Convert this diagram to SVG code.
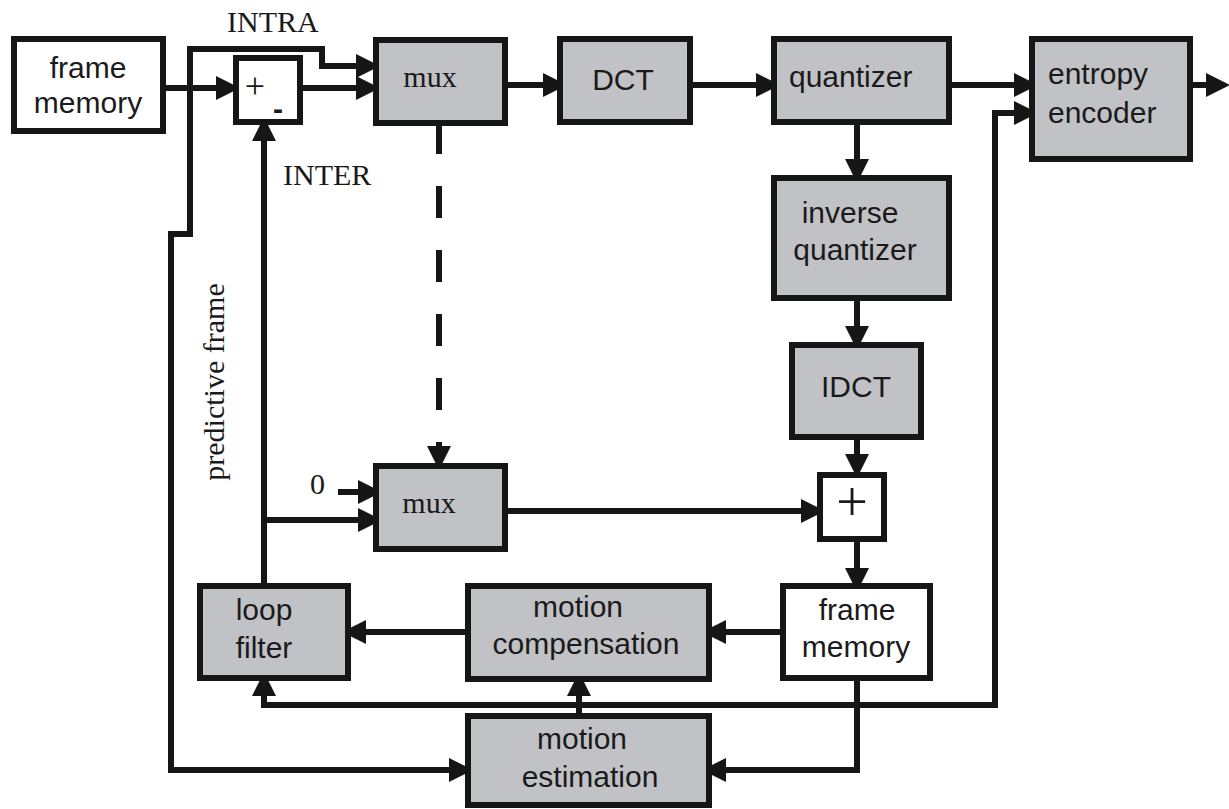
<svg xmlns="http://www.w3.org/2000/svg" width="1229" height="809" viewBox="0 0 1229 809">
<style>
.box{stroke:#161616;stroke-width:6;}
.g{fill:#c1c2c6;}
.w{fill:#ffffff;}
.sans{font-family:"Liberation Sans",Arial,sans-serif;font-size:30px;fill:#1a1a1a;}
.serif{font-family:"Liberation Serif","Times New Roman",serif;font-size:30px;fill:#1a1a1a;}
.c{text-anchor:middle;}
.wire{fill:none;stroke:#161616;stroke-width:6;stroke-linejoin:miter;stroke-linecap:butt;}
.dash{stroke-dasharray:32 32;}
</style>
<defs>
<marker id="ah" markerUnits="userSpaceOnUse" markerWidth="24" markerHeight="24" refX="2" refY="12" orient="auto-start-reverse" overflow="visible">
<path d="M0,0 L24,12 L0,24 Z" fill="#161616"/>
</marker>
</defs>
<rect width="1229" height="809" fill="#ffffff"/>

<g id="connectors">
<path class="wire" d="M163,88 H218" marker-end="url(#ah)"/>
<path class="wire" d="M187,49 H322 V66 H358" marker-end="url(#ah)"/>
<path class="wire" d="M190,46 V234 H171 V770 H451" marker-end="url(#ah)"/>
<path class="wire" d="M300,88 H358" marker-end="url(#ah)"/>
<path class="wire" d="M505,85 H545" marker-end="url(#ah)"/>
<path class="wire" d="M690,85 H758" marker-end="url(#ah)"/>
<path class="wire" d="M949,85 H1016" marker-end="url(#ah)"/>
<path class="wire" d="M1190,85 H1208" marker-end="url(#ah)"/>
<path class="wire" d="M857,122 V161" marker-end="url(#ah)"/>
<path class="wire" d="M857,298 V328" marker-end="url(#ah)"/>
<path class="wire" d="M857,437 V456" marker-end="url(#ah)"/>
<path class="wire" d="M857,539 V570" marker-end="url(#ah)"/>
<path class="wire" d="M505,511 H803" marker-end="url(#ah)"/>
<path class="wire" d="M783,632 H724" marker-end="url(#ah)"/>
<path class="wire" d="M857,678 V770 H724" marker-end="url(#ah)"/>
<path class="wire" d="M468,632 H364" marker-end="url(#ah)"/>
<path class="wire" d="M579,716 V694" marker-end="url(#ah)"/>
<path class="wire" d="M264,694 V705 H995 V113 H1016" marker-start="url(#ah)" marker-end="url(#ah)"/>
<path class="wire" d="M264,586 V139" marker-end="url(#ah)"/>
<path class="wire" d="M264,520 H360" marker-end="url(#ah)"/>
<path class="wire" d="M338,492 H360" marker-end="url(#ah)"/>
<path class="wire dash" d="M439,122 V446"/>
<path class="wire" d="M439,442 V448" marker-end="url(#ah)"/>
</g>

<g id="frame-memory-in">
<rect class="box w" x="14" y="39" width="149" height="92"/>
<text class="sans c" x="88" y="78">frame</text>
<text class="sans c" x="88" y="113">memory</text>
</g>
<g id="subtractor">
<rect class="box w" x="236" y="58" width="64" height="64"/>
<text class="serif c" x="255" y="98" style="font-size:36px">+</text>
<text class="sans c" x="278" y="119" style="font-weight:bold">-</text>
</g>
<g id="mux-top">
<rect class="box g" x="376" y="40" width="129" height="83"/>
<text class="serif c" x="430" y="87">mux</text>
</g>
<g id="dct">
<rect class="box g" x="560" y="39" width="130" height="83"/>
<text class="sans c" x="623" y="90">DCT</text>
</g>
<g id="quantizer">
<rect class="box g" x="774" y="39" width="175" height="83"/>
<text class="sans" x="789" y="87">quantizer</text>
</g>
<g id="entropy-encoder">
<rect class="box g" x="1032" y="39" width="158" height="120"/>
<text class="sans" x="1048" y="84">entropy</text>
<text class="sans" x="1048" y="123">encoder</text>
</g>
<g id="inverse-quantizer">
<rect class="box g" x="774" y="178" width="175" height="120"/>
<text class="sans c" x="850" y="223">inverse</text>
<text class="sans c" x="855" y="260">quantizer</text>
</g>
<g id="idct">
<rect class="box g" x="792" y="345" width="129" height="92"/>
<text class="sans c" x="856" y="397">IDCT</text>
</g>
<g id="adder">
<rect class="box w" x="820" y="475" width="64" height="64"/>
<text class="serif c" x="852" y="521" style="font-size:56px">+</text>
</g>
<g id="mux-bottom">
<rect class="box g" x="376" y="466" width="129" height="83"/>
<text class="serif c" x="429" y="513">mux</text>
</g>
<g id="frame-memory-loop">
<rect class="box w" x="783" y="586" width="147" height="92"/>
<text class="sans c" x="857" y="620">frame</text>
<text class="sans c" x="856" y="657">memory</text>
</g>
<g id="motion-compensation">
<rect class="box g" x="468" y="586" width="241" height="93"/>
<text class="sans c" x="578" y="617">motion</text>
<text class="sans c" x="586" y="654">compensation</text>
</g>
<g id="loop-filter">
<rect class="box g" x="200" y="586" width="148" height="92"/>
<text class="sans c" x="264" y="620">loop</text>
<text class="sans c" x="264" y="658">filter</text>
</g>
<g id="motion-estimation">
<rect class="box g" x="468" y="716" width="241" height="89"/>
<text class="sans c" x="582" y="749">motion</text>
<text class="sans c" x="590" y="787">estimation</text>
</g>

<g id="labels">
<text class="serif" x="227" y="32">INTRA</text>
<text class="serif" x="283" y="185">INTER</text>
<text class="serif" x="310" y="494">0</text>
<text class="serif c" transform="translate(224,382) rotate(-90)">predictive frame</text>
</g>
</svg>
